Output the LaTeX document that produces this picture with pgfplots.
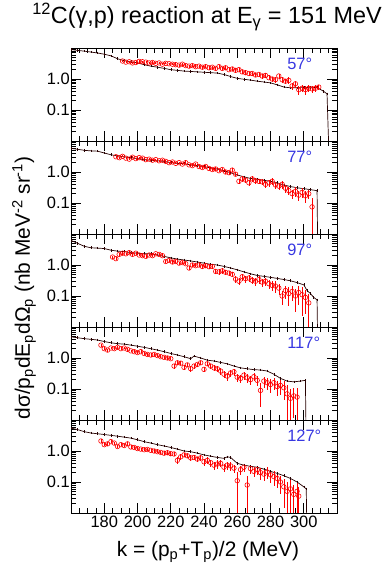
\documentclass[border=0pt]{standalone}
\usepackage{fontspec}
\setmainfont{Liberation Sans}
\usepackage{pgfplots}
\usepackage{pgfplotstable}
\pgfplotsset{compat=1.18}
\definecolor{angblue}{RGB}{55,55,225}

% ---------- theory (black) ----------
\pgfplotstableread{
k v
160 8.9
164 8.4
168 7.9
172 7.4
176 6.9
180 6.3
184 5.6
188 4.5
192 3.9
196 3.6
200 3.3
204 2.9
208 2.6
212 2.4
216 2.2
220 2.0
224 1.9
228 1.8
232 1.75
236 1.7
240 1.65
244 1.6
248 1.55
252 1.4
256 1.2
260 1.05
264 0.98
268 0.92
272 0.85
276 0.8
280 0.75
284 0.65
288 0.55
292 0.52
296 0.52
300 0.53
304 0.54
308 0.53
312 0.4
314 0.33
315.5 0.001
}\blackA
\pgfplotstableread{
k v
160 5.8
164 5.4
168 5.0
172 4.8
176 4.7
180 4.1
184 3.6
188 3.3
192 3.1
196 2.9
200 2.7
204 2.5
208 2.4
212 2.3
216 2.2
220 2.0
224 1.9
228 1.85
232 1.7
236 1.6
240 1.5
244 1.35
248 1.25
252 1.1
256 0.95
260 0.8
264 0.7
268 0.62
272 0.58
276 0.54
280 0.5
284 0.45
288 0.38
292 0.34
296 0.31
300 0.29
304 0.27
308 0.25
308.5 0.001
}\blackB
\pgfplotstableread{
k v
160 6.2
164 5.0
168 4.0
172 3.6
176 3.5
180 3.4
184 3.0
188 2.8
192 2.7
196 2.5
200 2.4
204 2.3
208 2.3
212 2.1
216 1.9
220 1.7
224 1.55
228 1.45
232 1.35
236 1.25
240 1.15
244 1.05
248 1.0
252 0.9
256 0.8
260 0.7
264 0.6
268 0.52
272 0.46
276 0.43
280 0.4
284 0.37
288 0.34
292 0.31
296 0.27
300 0.23
302 0.15
304 0.12
306 0.09
308 0.075
308.5 0.001
}\blackC
\pgfplotstableread{
k v
160 4.8
164 4.5
168 4.2
172 4.0
176 3.8
180 3.4
184 3.1
188 2.9
192 2.8
196 2.6
200 2.4
204 2.2
208 2.0
212 1.8
216 1.6
220 1.4
224 1.25
228 1.1
232 0.95
234 1.15
238 1.0
242 0.85
246 0.8
250 0.72
254 0.65
258 0.55
262 0.48
266 0.45
270 0.42
274 0.41
278 0.38
282 0.3
286 0.22
290 0.18
294 0.17
298 0.18
301 0.19
301.5 0.001
}\blackD
\pgfplotstableread{
k v
160 5.5
164 4.9
168 4.2
172 3.8
176 3.6
180 3.4
184 3.2
188 3.0
192 2.8
196 2.6
200 2.3
204 2.0
208 1.8
212 1.6
216 1.45
220 1.3
224 1.15
228 1.0
232 0.95
236 0.85
240 0.75
244 0.68
248 0.62
252 0.58
254 0.65
256 0.62
260 0.4
264 0.35
268 0.32
272 0.3
276 0.26
280 0.22
284 0.19
288 0.16
292 0.13
296 0.1
300 0.07
301.5 0.06
302 0.001
}\blackE

% ---------- data (red) ----------
\pgfplotstableread{
k v e
191 3.8 .08
193 3.5 .08
195 3.6 .08
197 3.3 .08
199 3.4 .08
201 3.7 .08
203 3.6 .08
205 3.5 .08
207 3.3 .08
209 3.4 .08
211 3.2 .08
213 3.3 .08
215 3.0 .08
217 3.2 .08
219 3.1 .08
221 3.0 .08
223 2.9 .1
225 2.8 .1
227 3.0 .1
229 2.7 .1
231 2.6 .1
233 2.7 .1
235 2.5 .1
237 2.6 .1
239 2.4 .1
241 2.5 .12
243 2.3 .12
245 2.4 .12
247 2.2 .12
249 2.5 .12
251 2.2 .12
253 2.3 .12
255 2.0 .12
257 2.1 .12
259 1.9 .15
261 2.0 .15
263 1.7 .15
265 1.6 .15
267 1.5 .15
269 1.5 .15
271 1.35 .15
273 1.4 .15
275 1.25 .18
277 1.3 .18
279 1.1 .18
281 1.0 .18
283 0.95 .2
285 1.25 .2
287 0.95 .2
289 0.85 .2
291 0.9 .25
293 0.6 .25
295 0.7 .25
297 0.45 .3
299 0.5 .25
301 0.45 .3
303 0.5 .25
305 0.48 .25
307 0.5 .25
309 0.55 .2
}\redA
\pgfplotstableread{
k v e
187 3.1 .08
189 2.9 .08
191 3.2 .08
193 2.8 .08
195 2.6 .08
197 3.0 .08
199 2.7 .08
201 2.9 .08
203 2.8 .08
205 2.5 .08
207 2.6 .08
209 2.4 .08
211 2.5 .08
213 2.3 .08
215 2.4 .08
217 2.2 .08
219 2.0 .08
221 2.1 .08
223 1.9 .08
225 2.0 .08
227 1.8 .08
229 2.0 .1
231 1.7 .1
233 1.6 .1
235 1.8 .1
237 1.5 .1
239 1.4 .1
241 1.5 .12
243 1.3 .12
245 1.2 .12
247 1.25 .12
249 1.1 .12
251 1.2 .12
253 1.0 .12
255 0.95 .15
257 1.15 .15
259 0.85 .15
261 0.5 .2
263 0.6 .2
265 0.55 .2
267 0.45 .2
269 0.6 .2
271 0.52 .2
273 0.5 .2
275 0.48 .2
277 0.4 .25
279 0.45 .25
281 0.5 .25
283 0.38 .25
285 0.35 .25
287 0.4 .3
289 0.3 .3
291 0.25 .3
293 0.2 .35
295 0.24 .35
297 0.18 .35
299 0.22 .35
301 0.17 .4
303 0.2 .35
305 0.075 .95
}\redB
\pgfplotstableread{
k v e
185 1.8 .1
187 1.6 .1
189 2.2 .1
191 2.4 .1
193 2.3 .1
195 2.5 .1
197 2.2 .1
199 2.4 .1
201 2.1 .1
203 2.0 .1
205 1.9 .1
207 2.1 .1
209 2.0 .1
211 2.3 .1
213 2.2 .1
215 2.0 .1
217 1.3 .12
219 1.4 .12
221 1.25 .12
223 1.3 .12
225 1.15 .12
227 1.2 .12
229 1.1 .12
231 0.8 .15
233 1.0 .12
235 0.95 .12
237 1.0 .12
239 0.9 .15
241 0.95 .15
243 0.88 .15
245 0.9 .15
247 0.62 .2
249 0.6 .2
251 0.65 .2
253 0.58 .2
255 0.55 .2
257 0.5 .2
259 0.35 .25
261 0.3 .25
263 0.42 .25
265 0.36 .25
267 0.38 .25
269 0.32 .25
271 0.3 .3
273 0.34 .3
275 0.28 .3
277 0.3 .3
279 0.25 .35
281 0.22 .35
283 0.21 .4
285 0.18 .4
287 0.1 .5
289 0.15 .45
291 0.12 .6
293 0.14 .5
295 0.1 .7
297 0.13 .6
299 0.11 .8
301 0.09 .7
303 0.06 .98
}\redC
\pgfplotstableread{
k v e
178 2.6 .1
180 2.0 .1
182 1.8 .1
184 2.1 .1
186 2.0 .1
188 2.2 .1
190 2.0 .1
192 2.1 .1
194 1.9 .1
196 1.7 .1
198 1.6 .1
200 1.5 .1
202 1.6 .1
204 1.4 .1
206 1.3 .1
208 1.25 .12
210 1.3 .12
212 1.2 .12
214 1.1 .12
216 1.05 .12
218 1.0 .12
220 0.95 .12
222 0.55 .2
224 0.7 .15
226 0.68 .15
228 0.5 .2
230 0.6 .15
232 0.45 .2
234 0.55 .2
236 0.62 .15
238 0.7 .15
240 0.43 .2
242 0.65 .15
244 0.55 .2
246 0.48 .2
248 0.45 .2
250 0.38 .25
252 0.3 .25
254 0.26 .3
256 0.33 .25
258 0.36 .25
260 0.24 .3
262 0.22 .3
264 0.28 .3
266 0.23 .3
268 0.2 .35
270 0.25 .3
272 0.19 .35
274 0.09 .7
276 0.18 .4
278 0.16 .4
280 0.14 .45
282 0.16 .4
284 0.12 .5
286 0.13 .5
288 0.11 .6
290 0.07 .98
292 0.05 .98
294 0.06 .8
296 0.055 .98
}\redD
\pgfplotstableread{
k v e
178 2.1 .12
180 1.6 .12
182 1.7 .12
184 2.0 .12
186 1.8 .12
188 1.4 .12
190 1.6 .12
192 1.5 .12
194 1.7 .12
196 1.35 .12
198 1.3 .12
200 1.2 .12
202 1.15 .12
204 1.1 .12
206 1.12 .12
208 1.05 .12
210 1.0 .12
212 0.95 .12
214 0.9 .12
216 0.85 .15
218 0.88 .15
220 0.82 .15
222 0.8 .15
224 0.5 .25
226 0.65 .2
228 0.75 .15
230 0.7 .15
232 0.6 .2
234 0.62 .2
236 0.55 .2
238 0.6 .2
240 0.45 .25
242 0.5 .25
244 0.42 .25
246 0.35 .3
248 0.38 .3
250 0.4 .25
252 0.3 .3
254 0.35 .3
256 0.33 .3
258 0.28 .3
260 0.11 .98
262 0.25 .35
264 0.3 .3
266 0.08 .98
268 0.27 .35
270 0.22 .35
272 0.25 .35
274 0.2 .4
276 0.18 .4
278 0.21 .4
280 0.17 .45
282 0.15 .5
284 0.13 .5
286 0.1 .6
288 0.07 .8
290 0.05 .98
292 0.06 .9
294 0.04 .98
296 0.05 .98
297 0.035 .98
}\redE

\pgfplotsset{
  mypanel/.style={
    width=266bp, height=93bp, scale only axis,
    xmin=160, xmax=320, ymin=0.01, ymax=10,
    xtick={160,180,...,320}, xticklabels={},
    minor x tick num=3,
    ytick={0.01,0.1,1,10}, yticklabels={,0.1,1.0,},
    minor ytick={0.02,0.03,0.04,0.05,0.06,0.07,0.08,0.09,0.2,0.3,0.4,0.5,0.6,0.7,0.8,0.9,2,3,4,5,6,7,8,9},
    tick align=inside, major tick length=10bp, minor tick length=5bp,
    tick style={black, line width=0.6pt},
    axis line style={line width=0.9pt},
    ticklabel style={font=\fontsize{16.5}{19}\selectfont},
    yticklabel style={inner xsep=1bp},
  },
  mytheo/.style={black!85!red, line width=0.7pt, mark=|, mark size=1.3pt, mark options={line width=0.5pt}},
  myexpt/.style={only marks, red, mark=o, mark size=2.3bp, mark options={line width=0.6pt},
    error bars/y dir=both, error bars/y explicit relative, error bars/error mark=none,
    error bars/error bar style={red, line width=0.6pt}},
}
\tikzset{angtxt/.style={angblue, anchor=west, font=\fontsize{16.5}{19}\selectfont}}

\begin{document}
\begin{tikzpicture}[x=1bp,y=1bp]
\begin{semilogyaxis}[mypanel, anchor=north west, at={(71bp,523bp)}]
  \addplot[mytheo] table[x=k,y=v] {\blackA};
  \addplot[myexpt] table[x=k,y=v,y error=e] {\redA};
  \node[angtxt] at (rel axis cs:0.8,0.83) {57°};
\end{semilogyaxis}
\begin{semilogyaxis}[mypanel, anchor=north west, at={(71bp,430bp)}]
  \addplot[mytheo] table[x=k,y=v] {\blackB};
  \addplot[myexpt] table[x=k,y=v,y error=e] {\redB};
  \node[angtxt] at (rel axis cs:0.8,0.83) {77°};
\end{semilogyaxis}
\begin{semilogyaxis}[mypanel, anchor=north west, at={(71bp,337bp)}]
  \addplot[mytheo] table[x=k,y=v] {\blackC};
  \addplot[myexpt] table[x=k,y=v,y error=e] {\redC};
  \node[angtxt] at (rel axis cs:0.8,0.83) {97°};
\end{semilogyaxis}
\begin{semilogyaxis}[mypanel, anchor=north west, at={(71bp,244bp)}]
  \addplot[mytheo] table[x=k,y=v] {\blackD};
  \addplot[myexpt] table[x=k,y=v,y error=e] {\redD};
  \node[angtxt] at (rel axis cs:0.8,0.83) {117°};
\end{semilogyaxis}
\begin{semilogyaxis}[mypanel, anchor=north west, at={(71bp,151bp)}, xticklabels={,180,200,220,240,260,280,300,}]
  \addplot[mytheo] table[x=k,y=v] {\blackE};
  \addplot[myexpt] table[x=k,y=v,y error=e] {\redE};
  \node[angtxt] at (rel axis cs:0.8,0.83) {127°};
\end{semilogyaxis}
\node[font=\fontsize{23.5}{27}\selectfont] at (207bp,554bp) {\textsuperscript{12}C(γ,p) reaction at E\textsubscript{γ} = 151 MeV};
\node[font=\fontsize{21}{25}\selectfont] at (208bp,19bp) {k = (p\textsubscript{p}+T\textsubscript{p})/2 (MeV)};
\node[rotate=90, font=\fontsize{21}{25}\selectfont] at (24bp,283bp) {dσ/p\textsubscript{p}dE\textsubscript{p}dΩ\textsubscript{p} (nb MeV\textsuperscript{-2} sr\textsuperscript{-1})};
\pgfresetboundingbox
\path (0bp,0bp) rectangle (389bp,571bp);
\end{tikzpicture}
\end{document}
